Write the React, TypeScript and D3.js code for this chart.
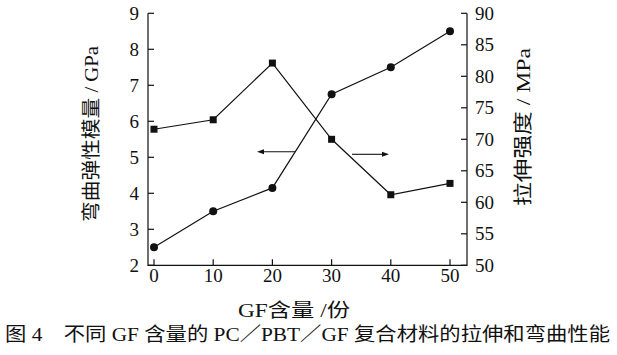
import React from "react";
import * as d3 from "d3";

const gfContent = [0, 10, 20, 30, 40, 50];
const flexModulus = [2.5, 3.5, 4.15, 6.75, 7.5, 8.5];
const tensileStrength = [71.6, 73.1, 82.1, 70.0, 61.2, 63.0];
const xTicks = [0, 10, 20, 30, 40, 50];
const leftTicks = [2, 3, 4, 5, 6, 7, 8, 9];
const rightTicks = [50, 55, 60, 65, 70, 75, 80, 85, 90];

const W = 617;
const H = 355;
const FONT = '"Liberation Serif", "Noto Sans CJK SC", serif';
const INK = "#111";

export default function App() {
  const x = d3.scaleLinear().domain([0, 50]).range([154, 450]);
  const yL = d3.scaleLinear().domain([2, 9]).range([265.3, 13.3]);
  const yR = d3.scaleLinear().domain([50, 90]).range([265.3, 13.3]);
  const axL = 148;
  const axR = 467;
  const axB = 265.3;
  const tk = 6;

  const lineL = d3
    .line<number>()
    .x((_, i) => x(gfContent[i]))
    .y((d) => yL(d));
  const lineR = d3
    .line<number>()
    .x((_, i) => x(gfContent[i]))
    .y((d) => yR(d));

  const arrowY1 = 151.7;
  const arrowY2 = 154.3;

  return (
    <svg
      width={W}
      height={H}
      style={{ position: "absolute", left: 0, top: 0, background: "#fff" }}
      fontFamily={FONT}
    >
      <rect width={W} height={H} fill="#fff" />
      {/* axes */}
      <path
        d={`M${axL},${yL(9)}V${axB}H${axR}V${yR(90)}`}
        fill="none"
        stroke={INK}
        strokeWidth={1.2}
      />
      {leftTicks.map((t) => (
        <g key={"l" + t}>
          <line x1={axL} x2={axL + tk} y1={yL(t)} y2={yL(t)} stroke={INK} strokeWidth={1.2} />
          <text x={139} y={yL(t)} dy="0.35em" textAnchor="end" fontSize={19} fill={INK}>
            {t}
          </text>
        </g>
      ))}
      {rightTicks.map((t) => (
        <g key={"r" + t}>
          <line x1={axR - tk} x2={axR} y1={yR(t)} y2={yR(t)} stroke={INK} strokeWidth={1.2} />
          <text x={475} y={yR(t)} dy="0.35em" textAnchor="start" fontSize={19} fill={INK}>
            {t}
          </text>
        </g>
      ))}
      {xTicks.map((t) => (
        <g key={"x" + t}>
          <line x1={x(t)} x2={x(t)} y1={axB} y2={axB - tk} stroke={INK} strokeWidth={1.2} />
          <text x={x(t)} y={282} textAnchor="middle" fontSize={19} fill={INK}>
            {t}
          </text>
        </g>
      ))}

      {/* series */}
      <path d={lineL(flexModulus) || ""} fill="none" stroke={INK} strokeWidth={1.2} />
      <path d={lineR(tensileStrength) || ""} fill="none" stroke={INK} strokeWidth={1.2} />
      {flexModulus.map((v, i) => (
        <circle key={"c" + i} cx={x(gfContent[i])} cy={yL(v)} r={4} fill={INK} />
      ))}
      {tensileStrength.map((v, i) => (
        <rect
          key={"s" + i}
          x={x(gfContent[i]) - 3.5}
          y={yR(v) - 3.5}
          width={7}
          height={7}
          fill={INK}
        />
      ))}

      {/* arrows */}
      <line x1={262} x2={295} y1={arrowY1} y2={arrowY1} stroke={INK} strokeWidth={1.1} />
      <path d={`M257,${arrowY1}l7,-2.5v5z`} fill={INK} />
      <line x1={352} x2={384} y1={arrowY2} y2={arrowY2} stroke={INK} strokeWidth={1.1} />
      <path d={`M389,${arrowY2}l-7,-2.5v5z`} fill={INK} />

      {/* axis titles */}
      <text
        transform={`translate(98,134) rotate(-90)`}
        textAnchor="middle"
        fontSize={19}
        fill={INK}
        textLength={176}
        lengthAdjust="spacingAndGlyphs"
      >
        弯曲弹性模量 / GPa
      </text>
      <text
        transform={`translate(530,127) rotate(-90)`}
        textAnchor="middle"
        fontSize={19}
        fill={INK}
        textLength={158}
        lengthAdjust="spacingAndGlyphs"
      >
        拉伸强度 / MPa
      </text>
      <text x={238} y={317} fontSize={19} fill={INK} textLength={112} lengthAdjust="spacingAndGlyphs">
        GF含量 /份
      </text>
      <text x={5} y={341} fontSize={19} fill={INK} textLength={605} lengthAdjust="spacingAndGlyphs">
        图 4　不同 GF 含量的 PC／PBT／GF 复合材料的拉伸和弯曲性能
      </text>
    </svg>
  );
}
